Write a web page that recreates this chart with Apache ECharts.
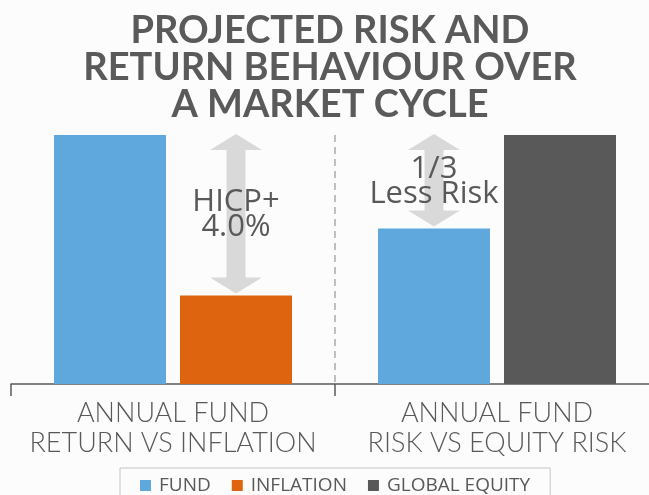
<!DOCTYPE html>
<html>
<head>
<meta charset="utf-8">
<script src="https://cdn.jsdelivr.net/npm/echarts@6/dist/echarts.min.js"></script>
<style>
  html, body { margin: 0; padding: 0; background: #fcfcfc; overflow: hidden; }
  #chart { width: 660px; height: 495px; }
</style>
</head>
<body>
<div id="chart"></div>
<script>
// categories and values (relative scale, max = 10)
var categories = ['ANNUAL FUND\nRETURN VS INFLATION', 'ANNUAL FUND\nRISK VS EQUITY RISK'];
var fundData = [10, 6.25];
var inflationData = [3.55, '-'];
var equityData = ['-', 10];
// arrows: [category, low, high, slot (-1 left bar, 1 right bar), label]
var arrowData = [
    [0, 3.55, 10, 1, 'HICP+\n4.0%'],
    [1, 6.25, 10, -1, '1/3\nLess Risk']
];

var barW = 112;
var barGapPx = 14;
var textGrey = '#595959';

var myChart = echarts.init(document.getElementById('chart'));

function renderArrow(params, api) {
    var cat = api.value(0);
    var lo = api.coord([cat, api.value(1)]);
    var hi = api.coord([cat, api.value(2)]);
    var x = lo[0] + api.value(3) * (barW + barGapPx) / 2;
    var yTop = hi[1] - 1;
    var yBot = lo[1] - 2;
    var head = 16, hw = 26, sw = 9.5;
    return {
        type: 'group',
        children: [{
            type: 'polygon',
            shape: {
                points: [
                    [x, yTop], [x + hw, yTop + head], [x + sw, yTop + head],
                    [x + sw, yBot - head], [x + hw, yBot - head], [x, yBot],
                    [x - hw, yBot - head], [x - sw, yBot - head],
                    [x - sw, yTop + head], [x - hw, yTop + head]
                ]
            },
            style: { fill: '#d9d9d9' }
        }, {
            type: 'text',
            x: x,
            y: (yTop + yBot) / 2 + 1,
            style: {
                text: arrowData[params.dataIndex][4],
                fill: textGrey,
                font: '31px "Open Sans"',
                lineHeight: 25,
                align: 'center',
                verticalAlign: 'middle'
            }
        }]
    };
}

// dashed divider on the boundary between the two categories
function renderDivider(params, api) {
    var base = api.coord([0, 0]);
    var top = api.coord([0, 10]);
    var x = base[0] + api.size([1, 0])[0] / 2;
    return {
        type: 'line',
        shape: { x1: x, y1: top[1], x2: x, y2: base[1] },
        style: { stroke: '#ababab', lineWidth: 1.5, lineDash: [7, 5] }
    };
}

var option = {
    backgroundColor: '#fcfcfc',
    animation: false,
    title: {
        text: 'PROJECTED RISK AND\nRETURN BEHAVIOUR OVER\nA MARKET CYCLE',
        left: 'center',
        top: 7,
        textStyle: {
            fontFamily: 'Lato',
            fontWeight: 700,
            fontSize: 38,
            lineHeight: 37,
            color: '#5a5a5a'
        }
    },
    legend: {
        data: ['FUND', 'INFLATION', 'GLOBAL EQUITY'],
        left: 120,
        top: 468,
        padding: [8, 20, 12, 20],
        borderColor: '#c4c4c4',
        borderWidth: 1,
        icon: 'rect',
        itemWidth: 11,
        itemHeight: 11,
        itemGap: 21,
        selectedMode: false,
        textStyle: {
            fontFamily: 'Open Sans',
            fontSize: 19,
            color: textGrey,
            padding: [0, 0, 0, 3]
        }
    },
    grid: {
        left: 11,
        right: 1,
        top: 135,
        bottom: 111,
        containLabel: false
    },
    xAxis: {
        type: 'category',
        data: categories,
        axisLine: { lineStyle: { color: '#595959', width: 1.5 } },
        axisTick: {
            show: true,
            length: 12,
            lineStyle: { color: '#595959', width: 1.5 }
        },
        axisLabel: {
            interval: 0,
            margin: 14,
            fontFamily: 'Lato',
            fontWeight: 300,
            fontSize: 27,
            lineHeight: 30,
            color: textGrey
        }
    },
    yAxis: {
        type: 'value',
        min: 0,
        max: 10,
        show: false
    },
    series: [
        {
            name: 'FUND',
            type: 'bar',
            data: fundData,
            barWidth: barW,
            barGap: (barGapPx / barW * 100) + '%',
            itemStyle: { color: '#5ea8de' }
        },
        {
            name: 'INFLATION',
            type: 'bar',
            stack: 'other',
            data: inflationData,
            barWidth: barW,
            itemStyle: { color: '#de6410' }
        },
        {
            name: 'GLOBAL EQUITY',
            type: 'bar',
            stack: 'other',
            data: equityData,
            barWidth: barW,
            itemStyle: { color: '#595959' }
        },
        {
            type: 'custom',
            renderItem: renderArrow,
            data: arrowData.map(function (d) { return [d[0], d[1], d[2], d[3]]; }),
            z: 5
        },
        {
            type: 'custom',
            renderItem: renderDivider,
            data: [[0]],
            z: 1
        }
    ]
};

myChart.setOption(option);
</script>
</body>
</html>
